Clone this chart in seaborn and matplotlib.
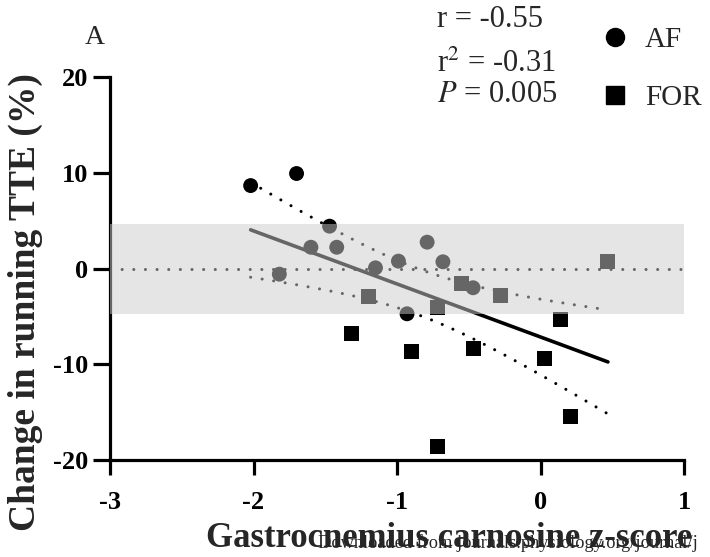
import numpy as np
import pandas as pd
import matplotlib
matplotlib.use("Agg")
import matplotlib.pyplot as plt
import seaborn as sns
from matplotlib.lines import Line2D

# ---------------- data ----------------
af_x = [-2.02, -1.70, -1.47, -1.60, -1.42, -1.82, -1.15, -0.99, -0.79, -0.68, -0.47, -0.93]
af_y = [8.66, 9.92, 4.42, 2.22, 2.22, -0.59, 0.07, 0.77, 2.75, 0.70, -2.01, -4.73]
for_x = [-1.20, -1.32, -0.72, -0.90, -0.55, -0.28, -0.47, 0.14, 0.03, 0.21, -0.72, 0.47]
for_y = [-2.96, -6.82, -4.10, -8.70, -1.57, -2.82, -8.35, -5.32, -9.43, -15.42, -18.55, 0.70]
groups = ["AF", "FOR"]
x_ticks = [-3, -2, -1, 0, 1]
y_ticks = [-20, -10, 0, 10, 20]
band_limits = [-4.8, 4.6]
t_crit = 2.074  # two-sided 95 % t value, df = 22
stats_lines = ["r = -0.55", r"r$^2$ = -0.31", r"$P$ = 0.005"]
panel_label = "A"
x_label = "Gastrocnemius carnosine z-score"
y_label = "Change in running TTE (%)"
watermark = "Downloaded from journals.physiology.org/journal/j"

# ---------------- style ----------------
sns.set_theme(style="white")
plt.rcParams["font.family"] = ["Liberation Serif", "DejaVu Serif"]
plt.rcParams["mathtext.fontset"] = "stix"

W, H = 710, 557
fig = plt.figure(figsize=(W / 100, H / 100), dpi=100)
ax = fig.add_axes([110 / W, 1 - 460 / H, 574 / W, 383 / H])

df = pd.DataFrame({
    "x": af_x + for_x,
    "y": af_y + for_y,
    "group": [groups[0]] * len(af_x) + [groups[1]] * len(for_x),
})

# scatter
sns.scatterplot(data=df, x="x", y="y", style="group",
                markers={"AF": "o", "FOR": "s"}, color="black",
                s=115, linewidth=0, legend=False, ax=ax, zorder=4)

# linear regression with 95 % confidence band
x = df["x"].to_numpy()
y = df["y"].to_numpy()
n = len(x)
slope, intercept = np.polyfit(x, y, 1)
xm = x.mean()
sxx = ((x - xm) ** 2).sum()
resid = y - (slope * x + intercept)
s_err = np.sqrt((resid ** 2).sum() / (n - 2))
xs = np.linspace(x.min(), x.max(), 200)
yhat = slope * xs + intercept
half = t_crit * s_err * np.sqrt(1 / n + (xs - xm) ** 2 / sxx)

dot_style = dict(color="black", lw=2.2, linestyle=(0, (0.01, 3.8)),
                 dash_capstyle="round", zorder=3)
ax.plot(xs, yhat + half, **dot_style)
ax.plot(xs, yhat - half, **dot_style)
sns.lineplot(x=xs, y=yhat, color="black", lw=2.6, ax=ax, zorder=3)
ax.axhline(0, **dot_style)

# grey band on top (makes the marks inside it look grey)
ax.axhspan(band_limits[0], band_limits[1], color="0.8", alpha=0.5, lw=0, zorder=5)

# axes
ax.set_xlim(x_ticks[0], x_ticks[-1])
ax.set_ylim(y_ticks[0], y_ticks[-1])
ax.set_xticks(x_ticks)
ax.set_yticks(y_ticks)
ax.set_xticklabels([str(v) for v in x_ticks], fontsize=19, fontweight="bold")
ax.set_yticklabels([str(v) for v in y_ticks], fontsize=19, fontweight="bold")
ax.set_xlabel("")
ax.set_ylabel("")
for side in ["top", "right"]:
    ax.spines[side].set_visible(False)
for side in ["left", "bottom"]:
    ax.spines[side].set_linewidth(2.3)
    ax.spines[side].set_color("black")
ax.tick_params(axis="x", direction="out", length=11, width=2.3, pad=11,
               colors="black", bottom=True)
ax.tick_params(axis="y", direction="out", length=12, width=2.3, pad=4,
               colors="black", left=True)
ax.patch.set_alpha(0)

# labels
fig.text(449 / W, 1 - 547 / H, x_label, ha="center", va="baseline",
         fontsize=25, fontweight="bold")
fig.text(25 / W, 1 - 302 / H, y_label, ha="center", va="center",
         rotation=90, fontsize=27, fontweight="bold")
fig.text(318 / W, 1 - 548 / H, watermark, ha="left", va="baseline", fontsize=13.2)
fig.text(95 / W, 1 - 38 / H, panel_label, ha="center", va="center", fontsize=20)

# statistics
for txt, base in zip(stats_lines, [27, 72, 102]):
    fig.text(437 / W, 1 - base / H, txt, ha="left", va="baseline", fontsize=22)

# legend
handles = [Line2D([], [], marker="o", color="black", ls="", markersize=13),
           Line2D([], [], marker="s", color="black", ls="", markersize=12.5)]
ax.legend(handles, groups, loc="upper left",
          bbox_to_anchor=(600 / W, 1 - 27 / H), bbox_transform=fig.transFigure,
          frameon=False, borderpad=0, borderaxespad=0, handlelength=1.0,
          handletextpad=0.54, labelspacing=1.08, fontsize=21)

fig.savefig("out.png", dpi=100)
